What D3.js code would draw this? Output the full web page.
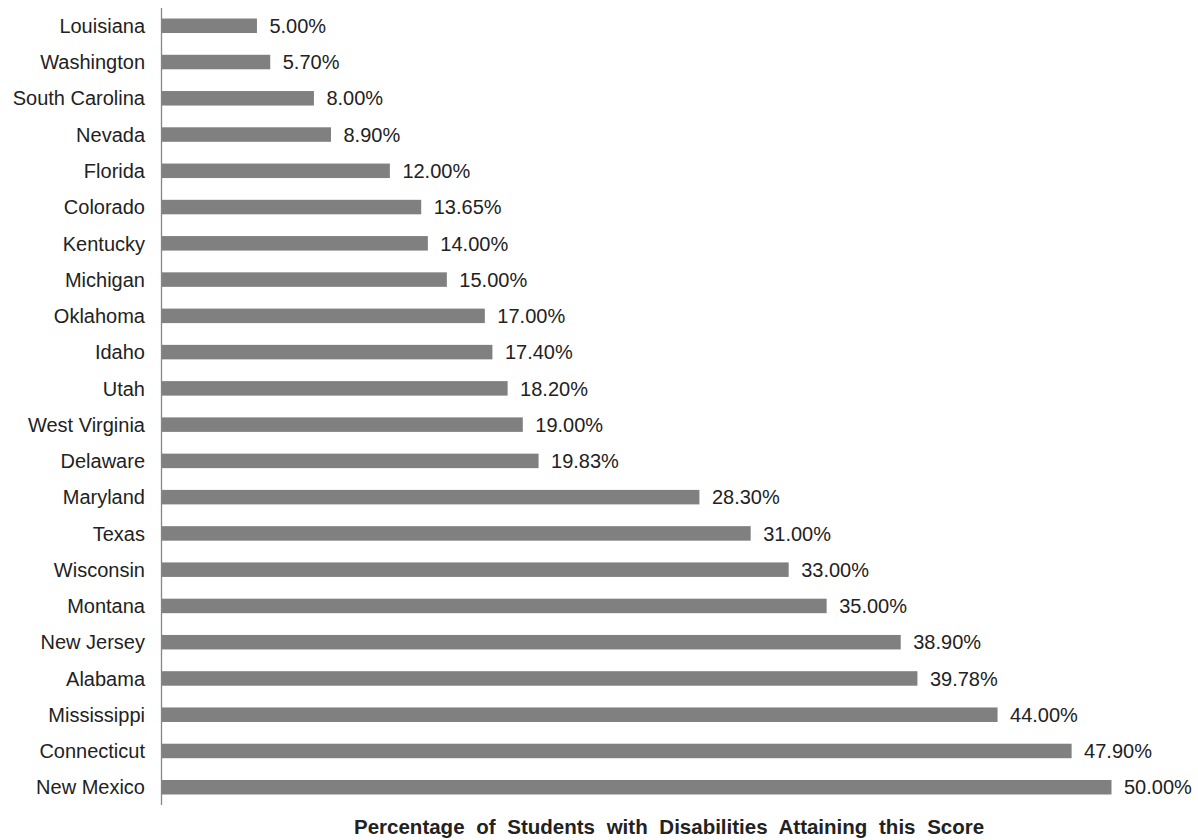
<!DOCTYPE html>
<html>
<head>
<meta charset="utf-8">
<script src="https://cdn.jsdelivr.net/npm/d3@7"></script>
<style>
  body { margin: 0; background: #fff; }
  text { font-family: Arial, "Liberation Sans", sans-serif; fill: #222; }
  .stateLabel, .valueLabel { font-size: 20px; }
  .title { font-size: 20.5px; font-weight: bold; word-spacing: 6px; }
</style>
</head>
<body>
<div id="chart"></div>
<script>
var states = ["Louisiana", "Washington", "South Carolina", "Nevada", "Florida", "Colorado",
  "Kentucky", "Michigan", "Oklahoma", "Idaho", "Utah", "West Virginia", "Delaware",
  "Maryland", "Texas", "Wisconsin", "Montana", "New Jersey", "Alabama", "Mississippi",
  "Connecticut", "New Mexico"]

var values = [5.00, 5.70, 8.00, 8.90, 12.00, 13.65, 14.00, 15.00, 17.00, 17.40, 18.20,
  19.00, 19.83, 28.30, 31.00, 33.00, 35.00, 38.90, 39.78, 44.00, 47.90, 50.00]

var xTitle = "Percentage of Students with Disabilities Attaining this Score"

var width = 1198
var height = 840

var data = states.map(function(s, i) { return {state: s, value: values[i]} })

var svg = d3.select("#chart").append("svg")
	.attr("width", width)
	.attr("height", height)

var x = d3.scaleLinear()
	.domain([0, 50])
	.range([162, 1111.5])

var y = d3.scaleBand()
	.domain(states)
	.range([8, 805])
	.paddingInner(0.6)
	.paddingOuter(0.29)

// bars
svg.append("g")
	.selectAll("rect")
	.data(data)
	.enter().append("rect")
		.attr("x", x(0))
		.attr("y", d => y(d.state))
		.attr("width", d => x(d.value) - x(0))
		.attr("height", y.bandwidth())
		.attr("fill", "#808080")

// vertical axis line
svg.append("line")
	.attr("x1", 161.5)
	.attr("x2", 161.5)
	.attr("y1", 8)
	.attr("y2", 805)
	.attr("stroke", "#868686")
	.attr("stroke-width", 1.3)

// state names
svg.append("g")
	.selectAll("text")
	.data(data)
	.enter().append("text")
		.attr("class", "stateLabel")
		.attr("x", 145)
		.attr("y", d => y(d.state) + y.bandwidth() / 2)
		.attr("dy", "0.36em")
		.attr("text-anchor", "end")
		.text(d => d.state)

// value labels
svg.append("g")
	.selectAll("text")
	.data(data)
	.enter().append("text")
		.attr("class", "valueLabel")
		.attr("x", d => x(d.value) + 12.5)
		.attr("y", d => y(d.state) + y.bandwidth() / 2)
		.attr("dy", "0.36em")
		.text(d => d.value.toFixed(2) + "%")

// axis title
svg.append("text")
	.attr("class", "title")
	.attr("x", 354)
	.attr("y", 834)
	.text(xTitle)
</script>
</body>
</html>
